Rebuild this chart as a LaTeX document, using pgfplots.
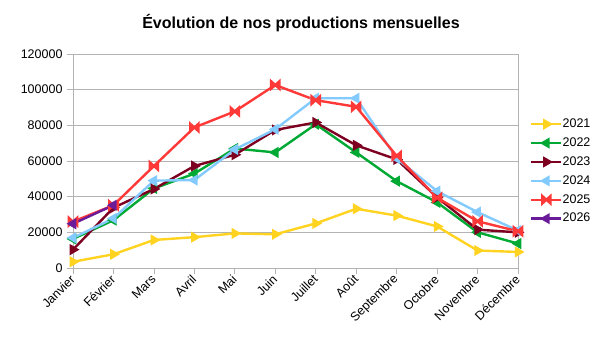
\documentclass[border=0pt]{standalone}
\usepackage{pgfplots}
\pgfplotsset{compat=1.18}
\usepackage{fontspec}
\setmainfont{Liberation Sans}
\definecolor{c21}{HTML}{FFD320}
\definecolor{c22}{HTML}{00A933}
\definecolor{c23}{HTML}{7E0021}
\definecolor{c24}{HTML}{83CAFF}
\definecolor{c25}{HTML}{FF3838}
\definecolor{c26}{HTML}{6A1B9A}
\definecolor{axgray}{HTML}{B3B3B3}
\pgfdeclareplotmark{bowtie}{%
  \pgfpathmoveto{\pgfqpoint{-\pgfplotmarksize}{0.9\pgfplotmarksize}}%
  \pgfpathlineto{\pgfqpoint{0pt}{0pt}}%
  \pgfpathlineto{\pgfqpoint{-\pgfplotmarksize}{-0.9\pgfplotmarksize}}%
  \pgfpathclose
  \pgfpathmoveto{\pgfqpoint{\pgfplotmarksize}{0.9\pgfplotmarksize}}%
  \pgfpathlineto{\pgfqpoint{0pt}{0pt}}%
  \pgfpathlineto{\pgfqpoint{\pgfplotmarksize}{-0.9\pgfplotmarksize}}%
  \pgfpathclose
  \pgfusepathqfillstroke}
\begin{document}
\begin{tikzpicture}
\path[use as bounding box] (0,0) rectangle (605bp,341bp);
\begin{axis}[
  at={(73bp,73bp)}, anchor=origin,
  width=445bp, height=214bp, scale only axis,
  xmin=0, xmax=11, ymin=0, ymax=120000,
  xtick={0,...,11},
  xticklabels={Janvier,Février,Mars,Avril,Mai,Juin,Juillet,Août,Septembre,Octobre,Novembre,Décembre},
  ytick={0,20000,...,120000},
  scaled y ticks=false,
  /pgf/number format/.cd, fixed, 1000 sep={}, assume math mode=true, /pgfplots/.cd,
  ymajorgrids, grid style={axgray, line width=0.8bp},
  axis line style={axgray, line width=0.8bp},
  tick style={axgray, line width=0.8bp},
  tick align=outside, major tick length=6bp,
  xtick pos=left, ytick pos=left,
  tick label style={font=\fontsize{12.5bp}{14bp}\selectfont, text=black},
  yticklabel style={xshift=-1bp},
  xticklabel style={rotate=45, anchor=east, xshift=1bp, yshift=-2bp},
  clip=false,
  every axis plot/.append style={line width=2.4bp, mark size=4.1bp},
  legend style={draw=none, fill=none, inner sep=0pt, anchor=north west,
    at={(1.027,0.70)}, row sep=7.4bp,
    font=\fontsize{12.5bp}{14bp}\selectfont,
    nodes={inner sep=0pt, text height=9bp, text depth=2.5bp}},
  legend cell align=left,
  /tikz/every even column/.append style={column sep=6.5bp},
  legend image code/.code={\draw[mark repeat=2,mark phase=2,#1] plot coordinates {(0bp,0bp) (15bp,0bp) (30bp,0bp)};},
]
\addplot[c21, mark=triangle*, mark options={solid, rotate=-90}] coordinates {
(0,3500) (1,7700) (2,15700) (3,17300) (4,19400) (5,18900) (6,25000) (7,33200) (8,29400) (9,23300) (10,9800) (11,9000)};
\addlegendentry{2021}
\addplot[c22, mark=triangle*, mark options={solid, rotate=90}] coordinates {
(0,16300) (1,26800) (2,44600) (3,52900) (4,67000) (5,64800) (6,80600) (7,64800) (8,48700) (9,36800) (10,20000) (11,13700)};
\addlegendentry{2022}
\addplot[c23, mark=triangle*, mark options={solid, rotate=-90}] coordinates {
(0,10300) (1,33800) (2,44300) (3,57200) (4,63500) (5,77400) (6,81600) (7,68800) (8,60900) (9,39600) (10,21500) (11,20000)};
\addlegendentry{2023}
\addplot[c24, mark=triangle*, mark options={solid, rotate=90}] coordinates {
(0,16900) (1,27800) (2,49000) (3,49300) (4,66500) (5,77800) (6,95200) (7,95200) (8,61500) (9,43100) (10,31300) (11,21000)};
\addlegendentry{2024}
\addplot[c25, mark=bowtie, mark options={solid}] coordinates {
(0,26000) (1,35200) (2,57200) (3,78800) (4,87800) (5,102600) (6,94100) (7,90400) (8,62900) (9,39400) (10,26200) (11,20600)};
\addlegendentry{2025}
\addplot[c26, mark=triangle*, mark options={solid, rotate=90}] coordinates {
(0,24800) (1,35200)};
\addlegendentry{2026}
\end{axis}
\node[anchor=base, font=\bfseries\fontsize{16bp}{19bp}\selectfont] at (301bp,312.7bp) {Évolution de nos productions mensuelles};
\end{tikzpicture}
\end{document}
